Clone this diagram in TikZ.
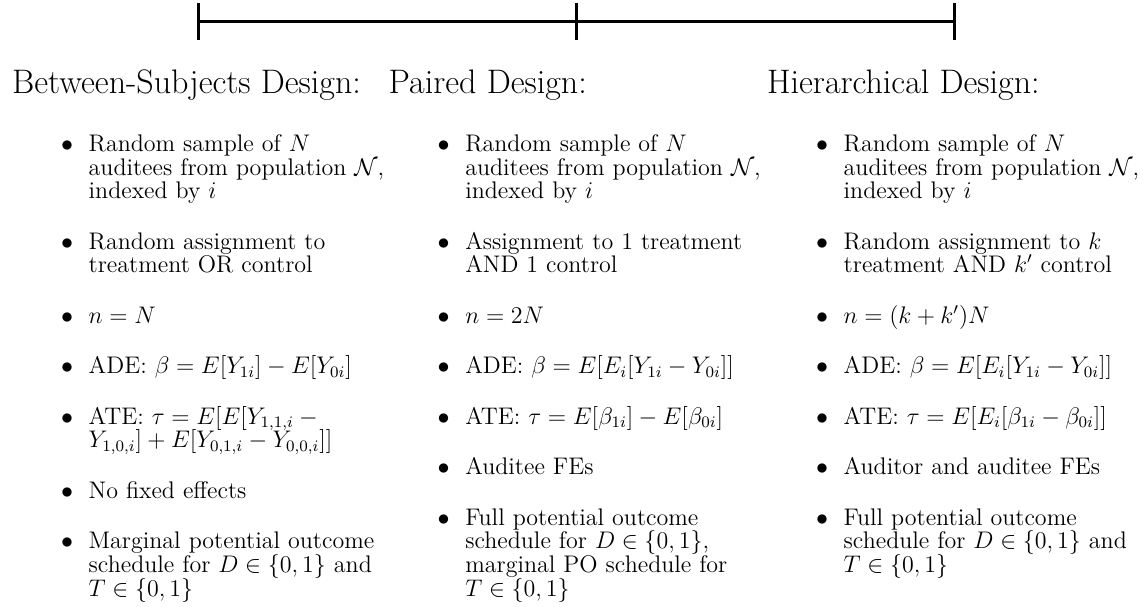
\documentclass[tikz,border=0pt]{standalone}
\usepackage{amsmath}
\usepackage{enumitem}
\usepackage{tikz}
\usetikzlibrary{positioning}
\setlist[itemize]{label=$\bullet$, leftmargin=38.3pt, labelsep=7.8pt,
    itemsep=13.45pt, parsep=0pt, topsep=0pt, partopsep=0pt}
\newcommand{\designfont}{%
    \fontsize{12}{11.8}\selectfont
    \setlength{\lineskiplimit}{-20pt}\setlength{\lineskip}{0pt}}
\tikzset{
    timeline/.style={
        line width=1.5pt, color=black
    },
    designhead/.style={
        anchor=base west, inner sep=0pt, font=\fontsize{17}{20}\selectfont
    },
    designlist/.style={
        anchor=north west, inner sep=0pt, text width=187.3pt, align=left,
        font=\designfont
    },
}

\begin{document}
\begin{tikzpicture}[x=0.5pt, y=-0.5pt]
    \useasboundingbox (0,0) rectangle (1143,606);

    % Timeline: one bar with three ticks
    \coordinate (betweentick) at (198.5,21.5);
    \coordinate (pairedtick) at (576.7,21.5);
    \coordinate (hiertick) at (954,21.5);
    \draw[timeline] (betweentick) -- (pairedtick) -- (hiertick);
    \draw[timeline] (betweentick) ++(0,-18.5) -- ++(0,37);
    \draw[timeline] (pairedtick) ++(0,-18.5) -- ++(0,37);
    \draw[timeline] (hiertick) ++(0,-18.5) -- ++(0,37);

    % Column headings
    \node[designhead] (between) at (11.7,93) {Between-Subjects Design:};
    \node[designhead] (paired) at (388.3,93) {Paired Design:};
    \node[designhead] (hier) at (766.7,93) {Hierarchical Design:};

    % Column 1: between-subjects
    \node[designlist] (betweenlist) at (11.7,127.4) {
        \begin{itemize}
            \item Random sample of $N$ auditees from population $\mathcal{N}$, indexed by $i$
            \item Random assignment to treatment OR control
            \item $n = N$
            \item ADE: $\beta = E[Y_{1i}] - E[Y_{0i}]$
            \item ATE: $\tau = E[E[Y_{1,1,i} - Y_{1,0,i}] + E[Y_{0,1,i} - Y_{0,0,i}]]$
            \item No fixed effects
            \item Marginal potential outcome schedule for $D \in \{0,1\}$ and $T \in \{0,1\}$
        \end{itemize}
    };

    % Column 2: paired
    \node[designlist] (pairedlist) at (388.3,127.4) {
        \begin{itemize}
            \item Random sample of $N$ auditees from population $\mathcal{N}$, indexed by $i$
            \item Assignment to 1 treatment AND 1 control
            \item $n = 2N$
            \item ADE: $\beta = E[E_i[Y_{1i} - Y_{0i}]]$
            \item ATE: $\tau = E[\beta_{1i}] - E[\beta_{0i}]$
            \item Auditee FEs
            \item Full potential outcome schedule for $D \in \{0,1\}$, marginal PO schedule for $T \in \{0,1\}$
        \end{itemize}
    };

    % Column 3: hierarchical
    \node[designlist] (hierlist) at (766.7,127.4) {
        \begin{itemize}
            \item Random sample of $N$ auditees from population $\mathcal{N}$, indexed by $i$
            \item Random assignment to $k$ treatment AND $k'$ control
            \item $n = (k+k')N$
            \item ADE: $\beta = E[E_i[Y_{1i} - Y_{0i}]]$
            \item ATE: $\tau = E[E_i[\beta_{1i} - \beta_{0i}]]$
            \item Auditor and auditee FEs
            \item Full potential outcome schedule for $D \in \{0,1\}$ and $T \in \{0,1\}$
        \end{itemize}
    };

\end{tikzpicture}
\end{document}
